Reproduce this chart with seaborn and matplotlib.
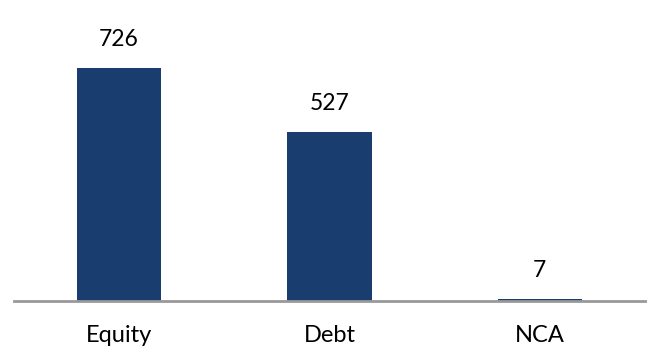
import matplotlib
matplotlib.use("Agg")
import matplotlib.pyplot as plt
import seaborn as sns
import pandas as pd

categories = ["Equity", "Debt", "NCA"]
values = [726, 527, 7]
labels = ["726", "527", "7"]

sns.set_theme(style="white")
plt.rcParams['font.family'] = ['Lato', 'DejaVu Sans']

df = pd.DataFrame({"cat": categories, "val": values})

fig = plt.figure(figsize=(6.65, 3.62), dpi=100)
ax = fig.add_axes([14/665, 61/362, 631/665, 291/362])
sns.barplot(data=df, x="cat", y="val", color="#1a3d6f", saturation=1, width=0.4,
            linewidth=0, ax=ax)
ax.set_xlim(-0.5, 2.5)
ax.set_ylim(0, 906)
for i, (v, l) in enumerate(zip(values, labels)):
    ax.annotate(l, (i, v), xytext=(0, 12.5), textcoords="offset points",
                ha="center", va="bottom", fontsize=16.5, color="black")
for s in ["top", "right", "left"]:
    ax.spines[s].set_visible(False)
ax.spines["bottom"].set_color("#999999")
ax.spines["bottom"].set_linewidth(2)
ax.set_yticks([])
ax.set_xlabel("")
ax.set_ylabel("")
ax.tick_params(axis="x", length=0, pad=17, labelsize=17, labelcolor="black")
fig.savefig("out.png", dpi=100)
